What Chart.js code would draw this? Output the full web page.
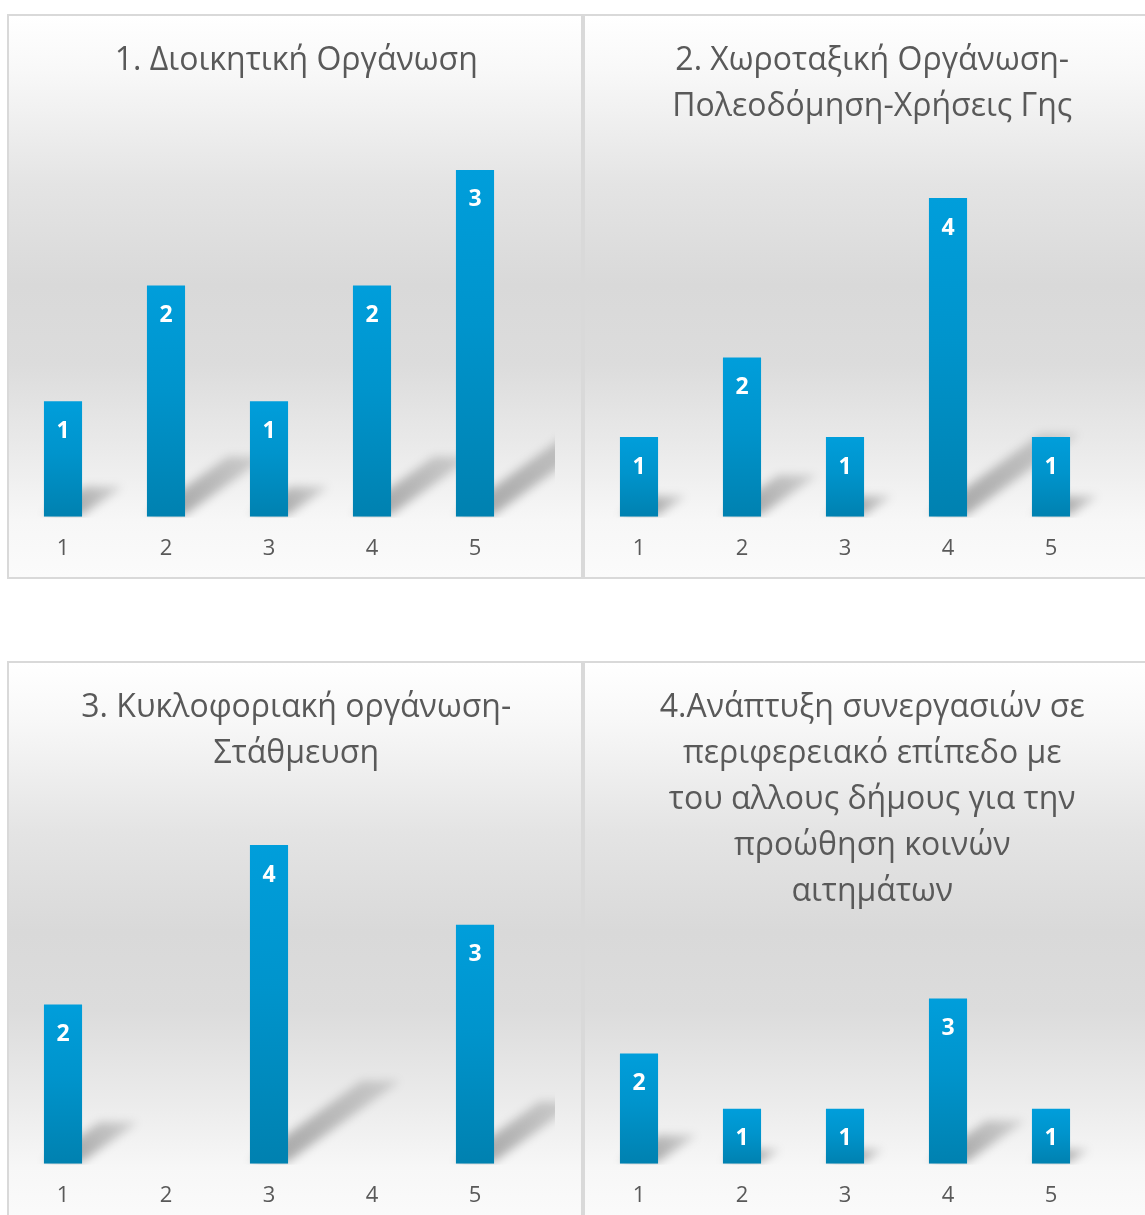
<!DOCTYPE html>
<html>
<head>
<meta charset="utf-8">
<script src="https://cdn.jsdelivr.net/npm/chart.js@4.4.1/dist/chart.umd.min.js"></script>
<style>
  html, body { margin: 0; padding: 0; background: #fff; overflow: hidden; }
  .panel {
    position: absolute;
    width: 572px;
    height: 561px;
    border: 2px solid #d9d9d9;
    background: linear-gradient(to bottom, #ffffff 0%, #f8f8f8 10%, #e4e4e4 30%, #d9d9d9 48%, #dcdcdc 62%, #ebebeb 78%, #f7f7f7 90%, #fbfbfb 100%);
  }
  .panel canvas { display: block; }
</style>
</head>
<body>
<div class="panel" style="left:7px; top:14px;"><canvas id="c1" width="572" height="561"></canvas></div>
<div class="panel" style="left:583px; top:14px;"><canvas id="c2" width="572" height="561"></canvas></div>
<div class="panel" style="left:7px; top:661px;"><canvas id="c3" width="572" height="561"></canvas></div>
<div class="panel" style="left:583px; top:661px;"><canvas id="c4" width="572" height="561"></canvas></div>
<script>
// data
var categories = ['1', '2', '3', '4', '5'];

var title1 = ['1. Διοικητική Οργάνωση'];
var title2 = ['2. Χωροταξική Οργάνωση-', 'Πολεοδόμηση-Χρήσεις Γης'];
var title3 = ['3. Κυκλοφοριακή οργάνωση-', 'Στάθμευση'];
var title4 = ['4.Ανάπτυξη συνεργασιών σε', 'περιφερειακό επίπεδο με', 'του αλλους δήμους για την', 'προώθηση κοινών', 'αιτημάτων'];

var values1 = [1, 2, 1, 2, 3];
var values2 = [1, 2, 1, 4, 1];
var values3 = [2, 0, 4, 0, 3];
var values4 = [2, 1, 1, 3, 1];

// hidden value axis maximum for each chart
var axisMax = [3.5, 4.5, 4.5, 4];

var textGrey = '#595959';
var fontFamily = '"Open Sans", "Noto Sans", sans-serif';

// vertical gradient for each bar, from its top down to the base
function barFill(context) {
    var chart = context.chart;
    var y = chart.scales.y;
    if (context.type !== 'data' || !y) return '#0095cf';
    var top = y.getPixelForValue(context.raw);
    var bottom = y.getPixelForValue(0);
    if (!isFinite(top) || !isFinite(bottom) || top === bottom) return '#0095cf';
    var g = chart.ctx.createLinearGradient(0, top, 0, bottom);
    g.addColorStop(0, '#009edb');
    g.addColorStop(0.45, '#0094cc');
    g.addColorStop(1, '#0081b0');
    return g;
}

// soft perspective shadow cast up and to the right of each bar
var barShadow = {
    id: 'barShadow',
    beforeDatasetsDraw: function (chart) {
        var ctx = chart.ctx;
        var meta = chart.getDatasetMeta(0);
        ctx.save();
        ctx.beginPath();
        ctx.rect(0, 0, chart.width - 26, chart.chartArea.bottom + 1);
        ctx.clip();
        ctx.filter = 'blur(5px)';
        meta.data.forEach(function (bar, i) {
            var v = chart.data.datasets[0].data[i];
            if (!v) return;
            var h = bar.base - bar.y;
            var x0 = bar.x - bar.width / 2;
            var x1 = bar.x + bar.width / 2;
            var dx = h * 0.35, dy = h * 0.26;
            var g = ctx.createLinearGradient(x1, bar.base, x1 + dx, bar.base - dy);
            g.addColorStop(0, 'rgba(0,0,0,0.30)');
            g.addColorStop(1, 'rgba(0,0,0,0.12)');
            ctx.fillStyle = g;
            ctx.beginPath();
            ctx.moveTo(x0, bar.base - 2);
            ctx.lineTo(x1, bar.base - 2);
            ctx.lineTo(x1 + dx, bar.base - dy);
            ctx.lineTo(x0 + dx, bar.base - dy);
            ctx.closePath();
            ctx.fill();
        });
        ctx.restore();
    }
};

// white value labels inside the top of each bar
var barLabels = {
    id: 'barLabels',
    afterDatasetsDraw: function (chart) {
        var ctx = chart.ctx;
        var meta = chart.getDatasetMeta(0);
        ctx.save();
        ctx.fillStyle = '#ffffff';
        ctx.font = 'bold 23px ' + fontFamily;
        ctx.textAlign = 'center';
        ctx.textBaseline = 'middle';
        meta.data.forEach(function (bar, i) {
            var v = chart.data.datasets[0].data[i];
            if (!v) return;
            ctx.fillText(String(v), bar.x, bar.y + 30);
        });
        ctx.restore();
    }
};

function makeChart(canvasId, titleLines, values, max) {
    var ctx = document.getElementById(canvasId).getContext('2d');
    return new Chart(ctx, {
        type: 'bar',
        data: {
            labels: categories,
            datasets: [{
                data: values,
                backgroundColor: barFill,
                borderWidth: 0,
                categoryPercentage: 1,
                barPercentage: 0.37
            }]
        },
        options: {
            responsive: false,
            animation: false,
            layout: { padding: { left: 2.5, right: 0, top: 0, bottom: -4 } },
            plugins: {
                legend: { display: false },
                tooltip: { enabled: false },
                title: {
                    display: true,
                    text: titleLines,
                    color: textGrey,
                    font: { family: fontFamily, size: 32, weight: 'normal', lineHeight: 1.44 },
                    padding: { top: 22, bottom: 28 }
                }
            },
            scales: {
                x: {
                    grid: { display: false, drawTicks: false },
                    border: { display: false },
                    ticks: { color: textGrey, padding: 20, font: { family: fontFamily, size: 22, lineHeight: 1.1 } }
                },
                y: {
                    display: false,
                    min: 0,
                    max: max
                },
                // empty strip on the right, keeps room for the shadows
                side: {
                    position: 'right',
                    grid: { display: false },
                    border: { display: false },
                    ticks: { display: false },
                    afterFit: function (scale) { scale.width = 54.5; }
                }
            }
        },
        plugins: [barShadow, barLabels]
    });
}

makeChart('c1', title1, values1, axisMax[0]);
makeChart('c2', title2, values2, axisMax[1]);
makeChart('c3', title3, values3, axisMax[2]);
makeChart('c4', title4, values4, axisMax[3]);
</script>
</body>
</html>
